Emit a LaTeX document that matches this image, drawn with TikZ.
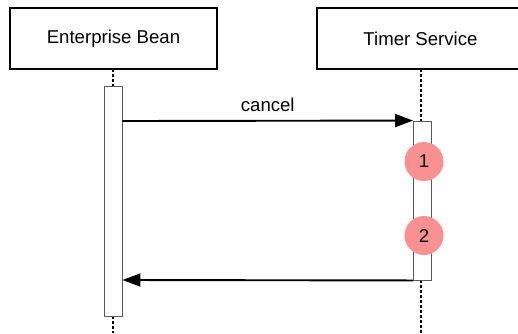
\documentclass[tikz,border=0pt]{standalone}
\usepackage{fontspec}
\setmainfont{Liberation Sans}
\usetikzlibrary{arrows.meta}
\begin{document}
\begin{tikzpicture}[x=1pt,y=-1pt,
  actor/.style={draw=black,line width=1.7pt,fill=white,minimum width=207pt,minimum height=61pt,inner sep=0pt,font=\fontsize{18.6}{22}\selectfont},
  actbox/.style={draw=black!65,line width=0.9pt,fill=white,inner sep=0pt},
  life/.style={line width=1.6pt,dash pattern=on 3pt off 2pt},
  msg/.style={line width=1.9pt,-{Triangle[length=18pt,width=13pt]}},
  numdot/.style={circle,fill=myred,minimum size=39pt,inner sep=0pt,font=\fontsize{18.6}{22}\selectfont}
]
\definecolor{myred}{RGB}{249,145,145}
\useasboundingbox (0,0) rectangle (518,333);
\node[actor] (eb) at (113.5,38.5) {Enterprise Bean};
\node[actor] (ts) at (420.5,38.5) {Timer Service};
\coordinate (eb0) at (113,69);
\coordinate (eb1) at (113,86);
\coordinate (eb2) at (113,316);
\coordinate (eb3) at (113,333);
\coordinate (ts0) at (421,69);
\coordinate (ts1) at (421,121);
\coordinate (ts2) at (421,280);
\coordinate (ts3) at (421,333);
\draw[life] (eb0) -- (eb1);
\draw[life] (eb2) -- (eb3);
\draw[life] (ts0) -- (ts1);
\draw[life] (ts2) -- (ts3);
\node[actbox,minimum width=18pt,minimum height=230pt] (a1) at (113,201) {};
\node[actbox,minimum width=18pt,minimum height=159pt] (a2) at (422.5,200.5) {};
\coordinate (c1s) at (a1.east |- 0,121);
\draw[msg] (c1s) -- (a2.north west) node[midway,above=5pt,font=\fontsize{18.6}{22}\selectfont] (lbl) {cancel};
\coordinate (r1e) at (a1.east |- 0,280);
\draw[msg] (a2.south west) -- (r1e);
\node[numdot] (m1) at (424,161.5) {1};
\node[numdot] (m2) at (424,235.5) {2};
\end{tikzpicture}
\end{document}
